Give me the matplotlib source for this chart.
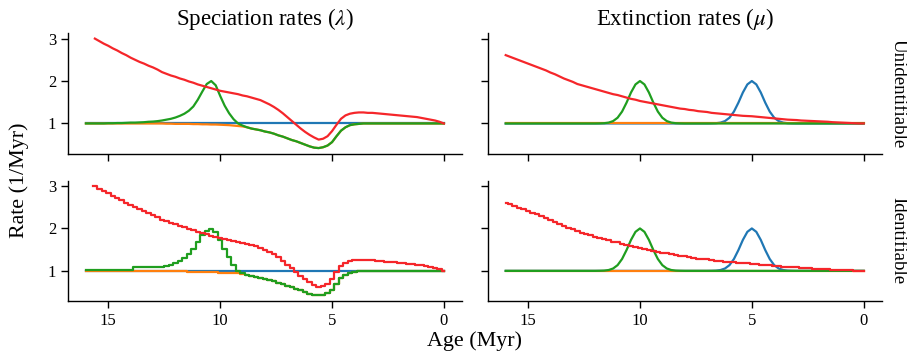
import numpy as np
import matplotlib
matplotlib.use("Agg")
import matplotlib.pyplot as plt

# ---------------- data ----------------
ages = np.round(np.arange(16.0, -0.01, -0.2), 1)   # 81 time points, 16 -> 0 Myr

# Speciation rates, unidentifiable (top-left)
spec_blue = [1.00] * 81
spec_green = [
    1.00, 1.00, 1.00, 1.00, 1.00, 1.005, 1.005, 1.01, 1.01, 1.015,
    1.02, 1.02, 1.025, 1.03, 1.04, 1.045, 1.055, 1.07, 1.09, 1.11,
    1.14, 1.18, 1.23, 1.30, 1.40, 1.56, 1.75, 1.93, 2.00, 1.90,
    1.65, 1.42, 1.24, 1.10, 1.00, 0.95, 0.91, 0.88, 0.86, 0.84,
    0.81, 0.79, 0.76, 0.72, 0.69, 0.65, 0.61, 0.58, 0.54, 0.50,
    0.46, 0.43, 0.42, 0.44, 0.48, 0.56, 0.70, 0.83, 0.91, 0.96,
    0.98, 0.99, 1.00, 1.00, 1.00, 1.00, 1.00, 1.00, 1.00, 1.00,
    1.00, 1.00, 1.00, 1.00, 1.00, 1.00, 1.00, 1.00, 1.00, 1.00,
    1.00]
spec_orange = ([1.00] * 18 +
               [0.995, 0.995, 0.99, 0.99, 0.99, 0.99, 0.985, 0.985, 0.98, 0.98,
                0.975, 0.975, 0.97, 0.965, 0.96, 0.95, 0.94, 0.93, 0.91] +
               spec_green[37:])
spec_red = [
    np.nan, np.nan, 3.00, 2.94, 2.88, 2.83, 2.77, 2.72, 2.66, 2.61,
    2.55, 2.50, 2.45, 2.41, 2.36, 2.32, 2.27, 2.21, 2.17, 2.13,
    2.10, 2.06, 2.03, 1.99, 1.96, 1.92, 1.89, 1.86, 1.83, 1.80,
    1.77, 1.75, 1.73, 1.71, 1.69, 1.66, 1.64, 1.61, 1.58, 1.55,
    1.50, 1.45, 1.39, 1.32, 1.24, 1.15, 1.06, 0.97, 0.88, 0.80,
    0.73, 0.67, 0.62, 0.64, 0.70, 0.82, 0.97, 1.11, 1.19, 1.23,
    1.25, 1.26, 1.26, 1.25, 1.25, 1.24, 1.23, 1.22, 1.21, 1.20,
    1.19, 1.18, 1.17, 1.16, 1.15, 1.13, 1.11, 1.09, 1.07, 1.04,
    1.00]

# Extinction rates (right column)
ext_orange = [1.00] * 81
ext_green = ([1.00] * 20 +
             [1.00, 1.002, 1.006, 1.02, 1.056, 1.135, 1.28, 1.49, 1.73, 1.92,
              2.00, 1.92, 1.73, 1.49, 1.28, 1.135, 1.056, 1.02, 1.006, 1.002] +
             [1.00] * 41)
ext_blue = ([1.00] * 45 +
            [1.00, 1.002, 1.006, 1.02, 1.056, 1.135, 1.28, 1.49, 1.73, 1.92,
             2.00, 1.92, 1.73, 1.49, 1.28, 1.135, 1.056, 1.02, 1.006, 1.002] +
            [1.00] * 16)
ext_red = [
    2.61, 2.57, 2.53, 2.49, 2.45, 2.41, 2.37, 2.33, 2.29, 2.25,
    2.20, 2.16, 2.11, 2.06, 2.02, 1.98, 1.93, 1.90, 1.87, 1.84,
    1.81, 1.78, 1.75, 1.72, 1.69, 1.67, 1.64, 1.61, 1.58, 1.56,
    1.53, 1.51, 1.49, 1.47, 1.45, 1.43, 1.41, 1.39, 1.37, 1.35,
    1.34, 1.32, 1.31, 1.29, 1.28, 1.27, 1.25, 1.24, 1.23, 1.22,
    1.21, 1.20, 1.19, 1.18, 1.175, 1.17, 1.16, 1.15, 1.14, 1.13,
    1.12, 1.11, 1.10, 1.09, 1.085, 1.08, 1.07, 1.065, 1.06, 1.055,
    1.05, 1.045, 1.04, 1.03, 1.025, 1.02, 1.015, 1.01, 1.005, 1.00,
    1.00]

# Identifiable speciation (bottom-left) where it differs from the top row
id_spec_green = ([1.015] * 11 + [1.08] * 6 +
                 [1.10, 1.12, 1.15, 1.19, 1.24, 1.31, 1.40, 1.52, 1.68, 1.84,
                  1.95, 1.99, 1.91, 1.72, 1.52, 1.32, 1.13, 1.00, 0.94] +
                 spec_green[36:])
id_spec_orange = ([1.00] * 23 + [0.98] * 7 + [0.955] * 3 +
                  [0.95, 0.94, 0.93, 0.91] + spec_green[37:])

col_titles = ["Speciation rates ($\\lambda$)", "Extinction rates ($\\mu$)"]
row_titles = ["Unidentifiable", "Identifiable"]
xticks = [15, 10, 5, 0]
yticks = [1, 2, 3]

# ---------------- styling ----------------
plt.rcParams["font.family"] = ["Liberation Serif", "DejaVu Serif"]
plt.rcParams["mathtext.fontset"] = "stix"

C_BLUE, C_ORANGE, C_GREEN, C_RED = "#1f77b4", "#ff7f0e", "#1f9e1f", "#f5262a"
LW = 1.6

fig, axes = plt.subplots(2, 2, figsize=(9.07, 3.6), dpi=100, sharex=True, sharey=True)
fig.subplots_adjust(left=0.075, right=0.972, top=0.908, bottom=0.164,
                    wspace=0.066, hspace=0.224)

# (values, colour, drawn as steps?)
panels = [
    [[(spec_blue, C_BLUE, False), (spec_orange, C_ORANGE, False),
      (spec_green, C_GREEN, False), (spec_red, C_RED, False)],
     [(ext_blue, C_BLUE, False), (ext_orange, C_ORANGE, False),
      (ext_green, C_GREEN, False), (ext_red, C_RED, False)]],
    [[(spec_blue, C_BLUE, False), (id_spec_orange, C_ORANGE, True),
      (id_spec_green, C_GREEN, True), (spec_red, C_RED, True)],
     [(ext_blue, C_BLUE, False), (ext_orange, C_ORANGE, False),
      (ext_green, C_GREEN, False), (ext_red, C_RED, True)]],
]

for r in range(2):
    for c in range(2):
        ax = axes[r, c]
        for vals, col, stepped in panels[r][c]:
            if stepped:
                ax.step(ages, vals, where="mid", color=col, lw=LW)
            else:
                ax.plot(ages, vals, color=col, lw=LW)
        for s in ("top", "right"):
            ax.spines[s].set_visible(False)
        for s in ("left", "bottom"):
            ax.spines[s].set_linewidth(1.0)
        ax.tick_params(labelsize=12, width=1.0, length=5)
        if r == 0:
            ax.set_title(col_titles[c], fontsize=16.5)
        if c == 1:
            ax.text(1.02, 0.5, row_titles[r], rotation=270, transform=ax.transAxes,
                    va="center", ha="left", fontsize=13.6)

axes[0, 0].set_xticks(xticks)
axes[0, 0].set_yticks(yticks)
axes[0, 0].invert_xaxis()

fig.text(0.021, 0.5, "Rate (1/Myr)", rotation=90, va="center", ha="center", fontsize=15.8)
fig.text(0.5236, 0.053, "Age (Myr)", va="center", ha="center", fontsize=15.8)

fig.savefig("out.png", dpi=100)
